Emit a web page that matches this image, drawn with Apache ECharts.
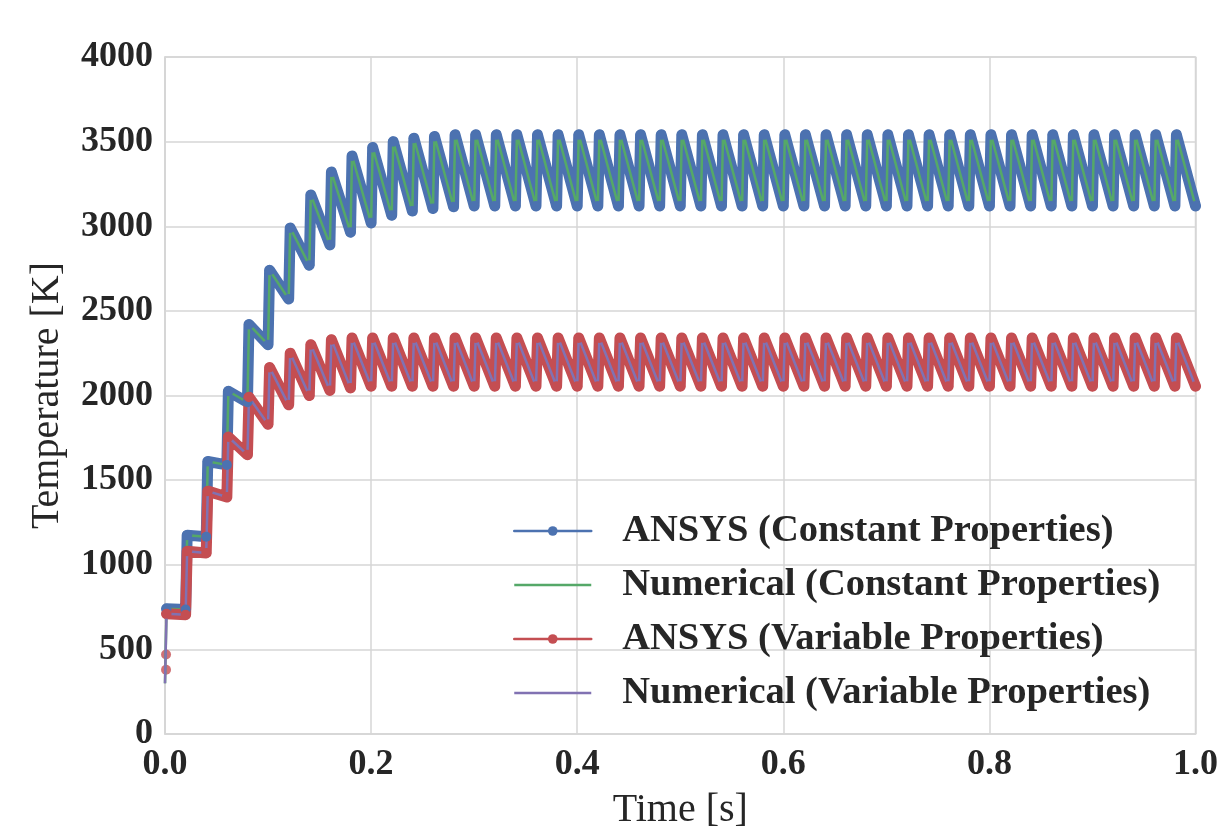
<!DOCTYPE html>
<html>
<head>
<meta charset="utf-8">
<title>Temperature vs Time</title>
<script src="https://cdn.jsdelivr.net/npm/echarts@6/dist/echarts.min.js"></script>
<style>
  html, body { margin: 0; padding: 0; background: #fff; }
  #chart { width: 1221px; height: 835px; }
</style>
</head>
<body>
<div id="chart"></div>
<script>
// start time of each laser pulse cycle [s]
const cycleStart = [
  0.00, 0.02, 0.04, 0.06, 0.08, 0.10, 0.12, 0.14, 0.16, 0.18,
  0.20, 0.22, 0.24, 0.26, 0.28, 0.30, 0.32, 0.34, 0.36, 0.38,
  0.40, 0.42, 0.44, 0.46, 0.48, 0.50, 0.52, 0.54, 0.56, 0.58,
  0.60, 0.62, 0.64, 0.66, 0.68, 0.70, 0.72, 0.74, 0.76, 0.78,
  0.80, 0.82, 0.84, 0.86, 0.88, 0.90, 0.92, 0.94, 0.96, 0.98,
  1.00
]
const riseTime = 0.0015

// constant properties: peak right after each pulse, trough at end of cycle [K]
const constPeak = [
  740, 1175, 1610, 2025, 2420, 2740, 2990, 3185, 3320, 3415,
  3465, 3500, 3520, 3530, 3540, 3540, 3540, 3540, 3540, 3540,
  3540, 3540, 3540, 3540, 3540, 3540, 3540, 3540, 3540, 3540,
  3540, 3540, 3540, 3540, 3540, 3540, 3540, 3540, 3540, 3540,
  3540, 3540, 3540, 3540, 3540, 3540, 3540, 3540, 3540, 3540
]
const constTrough = [
  735, 1165, 1590, 1960, 2300, 2570, 2770, 2890, 2965, 3020,
  3065, 3090, 3105, 3115, 3120, 3120, 3120, 3120, 3120, 3120,
  3120, 3120, 3120, 3120, 3120, 3120, 3120, 3120, 3120, 3120,
  3120, 3120, 3120, 3120, 3120, 3120, 3120, 3120, 3120, 3120,
  3120, 3120, 3120, 3120, 3120, 3120, 3120, 3120, 3120, 3120
]

// variable properties
const varPeak = [
  710, 1080, 1435, 1755, 1990, 2165, 2250, 2300, 2330, 2340,
  2340, 2340, 2340, 2340, 2340, 2340, 2340, 2340, 2340, 2340,
  2340, 2340, 2340, 2340, 2340, 2340, 2340, 2340, 2340, 2340,
  2340, 2340, 2340, 2340, 2340, 2340, 2340, 2340, 2340, 2340,
  2340, 2340, 2340, 2340, 2340, 2340, 2340, 2340, 2340, 2340
]
const varTrough = [
  705, 1070, 1400, 1650, 1830, 1945, 2000, 2030, 2045, 2055,
  2055, 2055, 2055, 2055, 2055, 2055, 2055, 2055, 2055, 2055,
  2055, 2055, 2055, 2055, 2055, 2055, 2055, 2055, 2055, 2055,
  2055, 2055, 2055, 2055, 2055, 2055, 2055, 2055, 2055, 2055,
  2055, 2055, 2055, 2055, 2055, 2055, 2055, 2055, 2055, 2055
]

// initial temperature and first ANSYS samples
const numStart = [[0, 300]]
const ansysVarFirst = [[0.001, 380], [0.001, 470]]

const yTicks = { min: 0, max: 4000, interval: 500 }
const xTicks = { min: 0, max: 1, interval: 0.2 }

const names = [
  'ANSYS (Constant Properties)',
  'Numerical (Constant Properties)',
  'ANSYS (Variable Properties)',
  'Numerical (Variable Properties)'
]

function sawtooth (peaks, troughs, start) {
  const pts = start ? start.slice() : []
  for (let k = 0; k < peaks.length; k++) {
    pts.push([cycleStart[k] + riseTime, peaks[k]])
    pts.push([cycleStart[k + 1], troughs[k]])
  }
  return pts
}

const serif = "'Liberation Serif', 'Times New Roman', serif"
const gridColor = '#d6d6d6'
const textColor = '#262626'
const noDot = { opacity: 0 }

const chart = echarts.init(document.getElementById('chart'))
chart.setOption({
  animation: false,
  backgroundColor: '#fff',
  grid: {
    left: 165,
    right: 25,
    top: 57,
    bottom: 92,
    show: true,
    borderColor: gridColor,
    borderWidth: 1.5
  },
  legend: {
    orient: 'vertical',
    left: 508,
    top: 506,
    itemWidth: 77,
    itemHeight: 12,
    itemGap: 14,
    lineStyle: { width: 2.5 },
    textStyle: {
      fontFamily: serif,
      fontWeight: 'bold',
      fontSize: 38.5,
      lineHeight: 40,
      color: textColor,
      padding: [0, 0, 0, 26]
    },
    data: [
      { name: names[0] },
      { name: names[1], itemStyle: noDot },
      { name: names[2] },
      { name: names[3], itemStyle: noDot }
    ]
  },
  xAxis: {
    type: 'value',
    min: xTicks.min,
    max: xTicks.max,
    interval: xTicks.interval,
    name: 'Time [s]',
    nameLocation: 'middle',
    nameGap: 56,
    nameTextStyle: { fontFamily: serif, fontSize: 40, color: textColor },
    axisLine: { show: true, lineStyle: { color: gridColor, width: 1.5 } },
    axisTick: { show: false },
    splitLine: { show: true, lineStyle: { color: gridColor, width: 1.5 } },
    axisLabel: {
      fontFamily: serif,
      fontWeight: 'bold',
      fontSize: 36,
      color: textColor,
      margin: 13,
      formatter: v => v.toFixed(1)
    }
  },
  yAxis: {
    type: 'value',
    min: yTicks.min,
    max: yTicks.max,
    interval: yTicks.interval,
    name: 'Temperature [K]',
    nameLocation: 'middle',
    nameGap: 98,
    nameTextStyle: { fontFamily: serif, fontSize: 40, color: textColor },
    axisLine: { show: true, lineStyle: { color: gridColor, width: 1.5 } },
    axisTick: { show: false },
    splitLine: { show: true, lineStyle: { color: gridColor, width: 1.5 } },
    axisLabel: {
      fontFamily: serif,
      fontWeight: 'bold',
      fontSize: 36,
      color: textColor,
      margin: 12,
      formatter: v => String(v)
    }
  },
  series: [
    {
      name: names[0],
      type: 'line',
      data: sawtooth(constPeak, constTrough),
      color: '#4C72B0',
      symbol: 'circle',
      symbolSize: 10,
      lineStyle: { width: 11, join: 'round', cap: 'round' }
    },
    {
      name: names[1],
      type: 'line',
      data: sawtooth(constPeak, constTrough, numStart),
      color: '#55A868',
      symbol: 'none',
      lineStyle: { width: 2.5 }
    },
    {
      name: names[2],
      type: 'line',
      data: sawtooth(varPeak, varTrough),
      color: '#C44E52',
      symbol: 'circle',
      symbolSize: 10,
      lineStyle: { width: 11, join: 'round', cap: 'round' }
    },
    {
      name: names[2],
      type: 'scatter',
      data: ansysVarFirst,
      color: '#C44E52',
      symbolSize: 10
    },
    {
      name: names[3],
      type: 'line',
      data: sawtooth(varPeak, varTrough, numStart),
      color: '#8172B2',
      symbol: 'none',
      lineStyle: { width: 2.5 }
    }
  ]
})
</script>
</body>
</html>
